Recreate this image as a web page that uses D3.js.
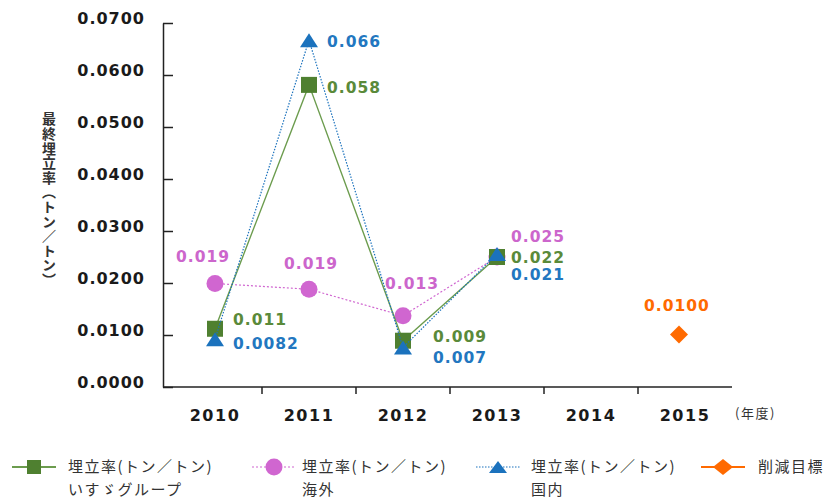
<!DOCTYPE html>
<html>
<head>
<meta charset="utf-8">
<script src="https://cdnjs.cloudflare.com/ajax/libs/d3/7.8.5/d3.min.js"></script>
<style>
body { margin: 0; background: #fff; }
.num { font-family: "DejaVu Sans", sans-serif; font-weight: bold; font-size: 15.5px; letter-spacing: 1px; }
.jp { font-family: "Noto Sans CJK JP", sans-serif; }
</style>
</head>
<body>
<svg id="chart" width="833" height="501"></svg>
<script>

// data
var years = ['2010', '2011', '2012', '2013', '2014', '2015'];
var yTicks = [0, 0.01, 0.02, 0.03, 0.04, 0.05, 0.06, 0.07];

var groupYears = ['2010', '2011', '2012', '2013'];
var groupVals = [0.0112, 0.0581, 0.0089, 0.025];
var groupLabels = ['0.011', '0.058', '0.009', '0.022'];

var overseasVals = [0.0199, 0.0188, 0.0137, 0.025];
var overseasLabels = ['0.019', '0.019', '0.013', '0.025'];

var domesticVals = [0.0092, 0.0667, 0.0076, 0.0256];
var domesticLabels = ['0.0082', '0.066', '0.007', '0.021'];

var targetYears = ['2015'];
var targetVals = [0.0101];
var targetLabels = ['0.0100'];

var legendNames = [
  ['埋立率(トン／トン)', 'いすゞグループ'],
  ['埋立率(トン／トン)', '海外'],
  ['埋立率(トン／トン)', '国内'],
  ['削減目標']
];

var GREEN = '#4f8030', GREEN_TXT = '#5a8a3a', GREEN_LINE = '#6c9c4e';
var PINK = '#d066d0', PINK_TXT = '#cc66cc';
var BLUE = '#1b72bd', BLUE_TXT = '#2277c0';
var ORANGE = '#ff6a00';

var svg = d3.select('#chart');

var x = d3.scaleBand().domain(years).range([168, 732]);
var y = d3.scaleLinear().domain([0, 0.07]).range([387, 23]);
function cx(yr) { return x(yr) + x.bandwidth() / 2; }

// y axis (ticks point into the plot)
var yAxis = d3.axisLeft(y).tickValues(yTicks).tickFormat(d3.format('.4f'))
  .tickSizeInner(-10).tickSizeOuter(0).tickPadding(18);
var gy = svg.append('g').attr('transform', 'translate(163,0)').call(yAxis);
gy.select('.domain').attr('stroke', '#222').attr('stroke-width', 1.5);
gy.selectAll('.tick line').attr('stroke', '#222').attr('stroke-width', 1.5);
gy.selectAll('.tick text').attr('class', 'num').attr('fill', '#1a1a1a').attr('y', -5)
  .style('font-size', '16px');

// x axis
var gx = svg.append('g').attr('transform', 'translate(0,387)');
gx.append('line').attr('x1', 163).attr('x2', 732).attr('stroke', '#222').attr('stroke-width', 1.5);
gx.selectAll('.bt').data(years.slice(1)).enter().append('line')
  .attr('x1', function(d) { return x(d); }).attr('x2', function(d) { return x(d); })
  .attr('y1', 0).attr('y2', 7).attr('stroke', '#222').attr('stroke-width', 1.5);
gx.selectAll('.yl').data(years).enter().append('text')
  .attr('class', 'num').attr('text-anchor', 'middle')
  .attr('x', cx).attr('y', 34).attr('fill', '#1a1a1a')
  .style('font-size', '16px').style('letter-spacing', '1.5px')
  .text(function(d) { return d; });
svg.append('text').attr('class', 'jp').attr('x', 735).attr('y', 418)
  .style('font-size', '13px').style('letter-spacing', '1.5px').attr('fill', '#333')
  .text('(年度)');

// y title, vertical
svg.append('text').attr('class', 'jp')
  .attr('x', 49).attr('y', 112)
  .style('writing-mode', 'vertical-rl')
  .style('font-size', '14px').style('font-weight', 'bold').style('letter-spacing', '0.6px')
  .attr('fill', '#333')
  .text('最終埋立率（トン／トン）');

var line = d3.line().x(function(d) { return cx(d[0]); }).y(function(d) { return y(d[1]); });

// pink (overseas)
svg.append('path').datum(d3.zip(groupYears, overseasVals)).attr('d', line)
  .attr('fill', 'none').attr('stroke', PINK).attr('stroke-width', 1.2).attr('stroke-dasharray', '2,2');
svg.selectAll('.pk').data(d3.zip(groupYears, overseasVals)).enter().append('circle')
  .attr('cx', function(d) { return cx(d[0]); }).attr('cy', function(d) { return y(d[1]); })
  .attr('r', 8.5).attr('fill', PINK);

// green (group)
svg.append('path').datum(d3.zip(groupYears, groupVals)).attr('d', line)
  .attr('fill', 'none').attr('stroke', GREEN_LINE).attr('stroke-width', 1.4);
svg.selectAll('.gr').data(d3.zip(groupYears, groupVals)).enter().append('rect')
  .attr('x', function(d) { return cx(d[0]) - 8; }).attr('y', function(d) { return y(d[1]) - 8; })
  .attr('width', 16).attr('height', 16).attr('fill', GREEN);

// blue (domestic)
svg.append('path').datum(d3.zip(groupYears, domesticVals)).attr('d', line)
  .attr('fill', 'none').attr('stroke', BLUE).attr('stroke-width', 1.2).attr('stroke-dasharray', '1.5,1.5');
var tri = 'M0,-7L9,7L-9,7Z';
svg.selectAll('.bl').data(d3.zip(groupYears, domesticVals)).enter().append('path')
  .attr('d', tri).attr('fill', BLUE)
  .attr('transform', function(d) { return 'translate(' + cx(d[0]) + ',' + y(d[1]) + ')'; });

// orange target
var dia = 'M0,-9L9,0L0,9L-9,0Z';
svg.selectAll('.or').data(d3.zip(targetYears, targetVals)).enter().append('path')
  .attr('d', dia).attr('fill', ORANGE)
  .attr('transform', function(d) { return 'translate(' + (cx(d[0]) - 6) + ',' + y(d[1]) + ')'; });

// value labels: offsets from the marker
function labels(yrs, vals, texts, color, offs, anchor) {
  svg.selectAll(null).data(d3.zip(yrs, vals, texts, offs)).enter().append('text')
    .attr('class', 'num').attr('fill', color).attr('text-anchor', anchor || 'start')
    .attr('x', function(d) { return cx(d[0]) + d[3][0]; })
    .attr('y', function(d) { return y(d[1]) + d[3][1]; })
    .attr('dy', '0.36em')
    .text(function(d) { return d[2]; });
}
labels(groupYears, groupVals, groupLabels, GREEN_TXT, [[18, -9], [18, 3], [30, -4], [14, 0]]);
labels(groupYears, domesticVals, domesticLabels, BLUE_TXT, [[18, 4], [18, 1], [30, 10], [14, 21]]);
labels(groupYears, overseasVals, overseasLabels, PINK_TXT, [[-39, -27], [-25, -26], [-18, -32], [14, -21]]);
labels(targetYears, targetVals, targetLabels, ORANGE, [[-8, -29]], 'middle');

// legend
var lg = svg.append('g').attr('transform', 'translate(0,467)');
var legX = [12, 252, 476, 701];
var legText = [68, 302, 531, 758];
var legColor = [GREEN, PINK, BLUE, ORANGE];
var legDash = [null, '2,2', '1.5,1.5', null];
var legW = [2, 1.2, 1.2, 2];
legX.forEach(function(lx, i) {
  lg.append('line').attr('x1', lx).attr('x2', lx + 44).attr('y1', 0).attr('y2', 0)
    .attr('stroke', i === 0 ? GREEN_LINE : legColor[i]).attr('stroke-width', legW[i])
    .attr('stroke-dasharray', legDash[i]);
  var mx = lx + 22;
  if (i === 0) lg.append('rect').attr('x', mx - 7).attr('y', -7).attr('width', 14).attr('height', 14).attr('fill', GREEN);
  if (i === 1) lg.append('circle').attr('cx', mx).attr('cy', 0).attr('r', 8.5).attr('fill', PINK);
  if (i === 2) lg.append('path').attr('d', 'M0,-6L9,6L-9,6Z').attr('transform', 'translate(' + mx + ',0)').attr('fill', BLUE);
  if (i === 3) lg.append('path').attr('d', 'M0,-8L10,0L0,8L-10,0Z').attr('transform', 'translate(' + mx + ',0)').attr('fill', ORANGE);
  legendNames[i].forEach(function(t, j) {
    lg.append('text').attr('class', 'jp').attr('x', legText[i]).attr('y', j * 23)
      .attr('dy', '0.36em').style('font-size', '15px').style('letter-spacing', '1.5px')
      .attr('fill', '#333')
      .text(t);
  });
});

</script>
</body>
</html>
